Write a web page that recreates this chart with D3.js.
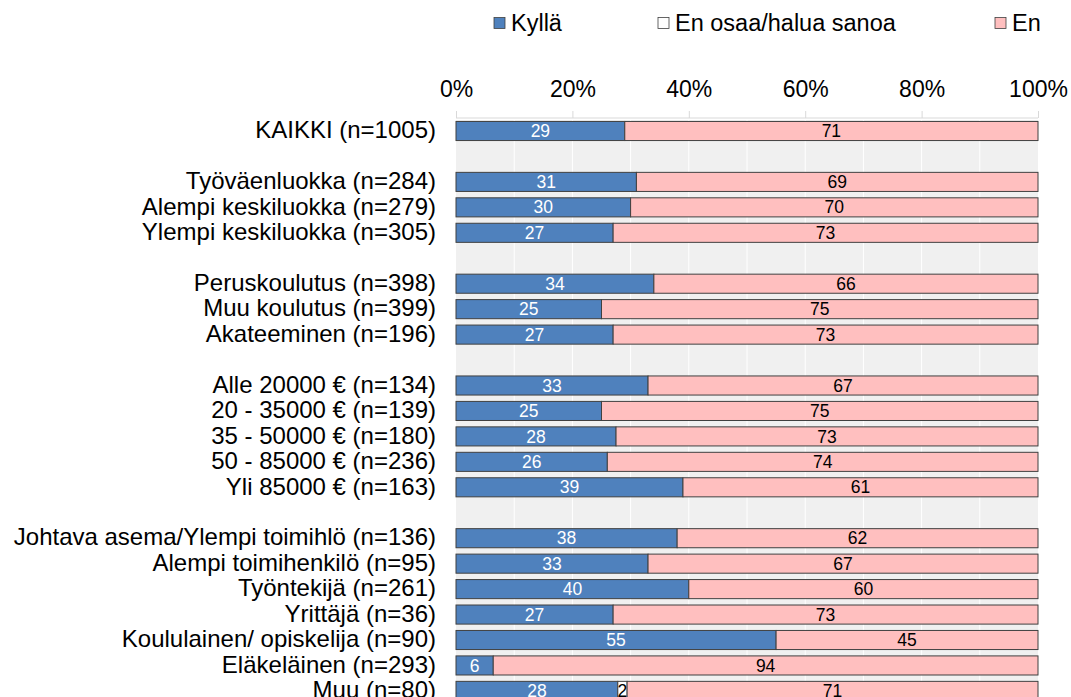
<!DOCTYPE html>
<html>
<head>
<meta charset="utf-8">
<script src="https://cdn.jsdelivr.net/npm/d3@7"></script>
<style>
  html, body { margin: 0; padding: 0; background: #fff; }
  svg { display: block; font-family: "Liberation Sans", Arial, sans-serif; }
</style>
</head>
<body>
<svg id="chart" width="1071" height="697"></svg>
<script>
const categories = [
  "KAIKKI (n=1005)",
  "Työväenluokka (n=284)", "Alempi keskiluokka (n=279)", "Ylempi keskiluokka (n=305)",
  "Peruskoulutus (n=398)", "Muu koulutus (n=399)", "Akateeminen (n=196)",
  "Alle 20000 € (n=134)", "20 - 35000 € (n=139)", "35 - 50000 € (n=180)", "50 - 85000 € (n=236)", "Yli 85000 € (n=163)",
  "Johtava asema/Ylempi toimihlö (n=136)", "Alempi toimihenkilö (n=95)", "Työntekijä (n=261)", "Yrittäjä (n=36)",
  "Koululainen/ opiskelija (n=90)", "Eläkeläinen (n=293)", "Muu (n=80)"
];
const groupSizes = [1, 3, 3, 5, 7];
const kylla = [29, 31, 30, 27, 34, 25, 27, 33, 25, 27.5, 26, 39, 38, 33, 40, 27, 55, 6.4, 27.8];
const eos   = [0, 0, 0, 0, 0, 0, 0, 0, 0, 0, 0, 0, 0, 0, 0, 0, 0, 0, 1.6];
const en    = [71, 69, 70, 73, 66, 75, 73, 67, 75, 72.5, 74, 61, 62, 67, 60, 73, 45, 93.6, 70.6];
const seriesNames = ["Kyllä", "En osaa/halua sanoa", "En"];
const tickLabels = ["0%", "20%", "40%", "60%", "80%", "100%"];

const colors = ["#4F81BD", "#FFFFFF", "#FFBFBF"];
const labelColors = ["#FFFFFF", "#000000", "#000000"];

const svg = d3.select("#chart");
const x0 = 456, x1 = 1038;
const x = d3.scaleLinear().domain([0, 100]).range([x0, x1]);

// slot indices including gaps between groups
const slots = [];
let s = 0;
groupSizes.forEach(g => {
  for (let k = 0; k < g; k++) slots.push(s++);
  s++;
});
const nSlots = s - 1;
const step = 25.45;
const yTop = 131 - step / 2;
const y = d3.scaleBand().domain(d3.range(nSlots)).range([yTop, yTop + nSlots * step])
  .paddingInner(0.25).paddingOuter(0.125);

// plot background
svg.append("rect").attr("x", x0).attr("y", 120).attr("width", x1 - x0).attr("height", 697 - 120)
  .attr("fill", "#F0F0F0");
// vertical gridlines
svg.append("g").selectAll("line").data(d3.range(10, 100, 10)).join("line")
  .attr("x1", d => x(d)).attr("x2", d => x(d)).attr("y1", 120).attr("y2", 697)
  .attr("stroke", "#FFFFFF").attr("stroke-width", 1);

// top axis
const axis = d3.axisTop(x).tickValues([0, 20, 40, 60, 80, 100]).tickSize(7)
  .tickFormat((d, i) => tickLabels[i]);
const gAxis = svg.append("g").attr("transform", "translate(0,118)").call(axis);
gAxis.select(".domain").attr("stroke", "#D9D9D9").attr("d", `M${x0},0H${x1}`);
gAxis.selectAll(".tick line").attr("stroke", "#D9D9D9");
gAxis.selectAll(".tick text").attr("y", -21.3).attr("dy", 0).attr("font-size", "23px").attr("fill", "#000")
  .attr("font-family", "'Liberation Sans', Arial, sans-serif");

// stacked data
const rows = categories.map((c, i) => ({ cat: c, slot: slots[i], vals: [kylla[i], eos[i], en[i]] }));
const gBars = svg.append("g");
rows.forEach(r => {
  let acc = 0;
  r.vals.forEach((v, si) => {
    if (v > 0) {
      gBars.append("rect")
        .attr("x", x(acc)).attr("y", y(r.slot))
        .attr("width", x(acc + v) - x(acc)).attr("height", y.bandwidth())
        .attr("fill", colors[si]).attr("stroke", "#404040").attr("stroke-width", 1);
      gBars.append("text")
        .attr("x", (x(acc) + x(acc + v)) / 2).attr("y", y(r.slot) + y.bandwidth() / 2)
        .attr("dy", "0.35em").attr("text-anchor", "middle")
        .attr("font-size", "17.5px").attr("fill", labelColors[si])
        .text(Math.round(v));
    }
    acc += v;
  });
  svg.append("text")
    .attr("x", 436).attr("y", y(r.slot) + y.bandwidth() / 2).attr("dy", "0.3em")
    .attr("text-anchor", "end").attr("font-size", "24px").attr("fill", "#000")
    .text(r.cat);
});

// legend
const legendX = [494, 658, 995];
const lg = svg.append("g");
seriesNames.forEach((n, i) => {
  lg.append("rect").attr("x", legendX[i]).attr("y", 17.5).attr("width", 11).attr("height", 11)
    .attr("fill", colors[i]).attr("stroke", "#404040").attr("stroke-width", 0.8);
  lg.append("text").attr("x", legendX[i] + 17).attr("y", 30.5)
    .attr("font-size", "23.5px").attr("fill", "#000").text(n);
});
</script>
</body>
</html>
